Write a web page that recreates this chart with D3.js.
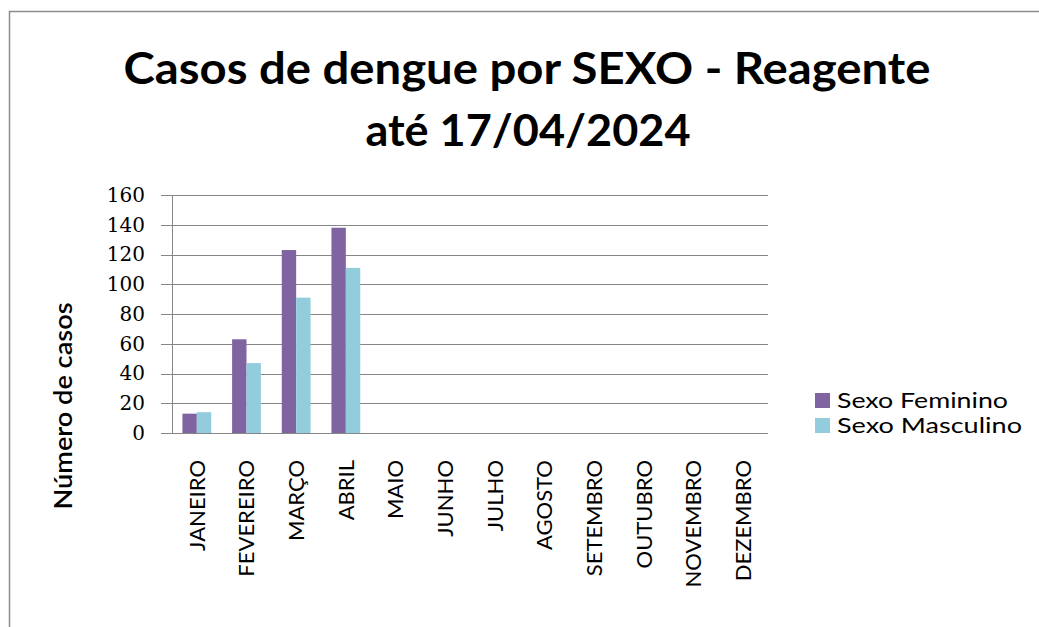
<!DOCTYPE html>
<html>
<head>
<meta charset="utf-8">
<script src="https://cdn.jsdelivr.net/npm/d3@7"></script>
<style>
  body { margin: 0; background: #fff; }
  svg { display: block; }
</style>
</head>
<body>
<script>
// chart values
let months = ['JANEIRO', 'FEVEREIRO', 'MARÇO', 'ABRIL', 'MAIO', 'JUNHO', 'JULHO',
              'AGOSTO', 'SETEMBRO', 'OUTUBRO', 'NOVEMBRO', 'DEZEMBRO'];
let seriesNames = ['Sexo Feminino', 'Sexo Masculino'];
let feminino = [13, 63, 123, 138];
let masculino = [14, 47, 91, 111];
let yTicks = [0, 20, 40, 60, 80, 100, 120, 140, 160];
let colors = ['#8064A2', '#93CDDD'];

let svgWidth = 1039;
let svgHeight = 627;
let plot = { left: 172, right: 768, top: 195, bottom: 433 };

let svg = d3.select('body')
  .append('svg')
  .attr('width', svgWidth)
  .attr('height', svgHeight);

// chart frame (only top and left edges visible in the crop)
svg.append('path')
  .attr('d', 'M9.5,' + svgHeight + 'V11.5H' + svgWidth)
  .attr('fill', 'none')
  .attr('stroke', '#8c8c8c')
  .attr('stroke-width', 1.5);

// title
let title = svg.append('g')
  .attr('font-family', 'Lato, sans-serif')
  .attr('font-weight', 'bold')
  .attr('font-size', 43)
  .attr('fill', '#000')
  .attr('text-anchor', 'middle');
title.append('text')
  .attr('x', 527).attr('y', 84)
  .attr('textLength', 807).attr('lengthAdjust', 'spacingAndGlyphs')
  .text('Casos de dengue por SEXO - Reagente');
title.append('text')
  .attr('x', 528).attr('y', 146)
  .attr('textLength', 325).attr('lengthAdjust', 'spacingAndGlyphs')
  .text('até 17/04/2024');

// scales
let x0 = d3.scaleBand()
  .domain(months)
  .range([plot.left, plot.right])
  .paddingInner(0.42)
  .paddingOuter(0.21);

let x1 = d3.scaleBand()
  .domain(seriesNames)
  .range([0, x0.bandwidth()]);

let y = d3.scaleLinear()
  .domain([0, 160])
  .range([plot.bottom, plot.top]);

// gridlines + y tick labels
let yAxis = svg.append('g')
  .attr('transform', 'translate(' + (plot.left - 11) + ',0)')
  .call(d3.axisLeft(y)
    .tickValues(yTicks)
    .tickSize(-(plot.right - plot.left + 11))
    .tickPadding(16));
yAxis.select('.domain').remove();
yAxis.selectAll('.tick line').attr('stroke', '#868686').attr('shape-rendering', 'crispEdges');
yAxis.selectAll('.tick text')
  .attr('font-family', '"DejaVu Serif", serif')
  .attr('font-size', 20)
  .attr('fill', '#000');

// vertical axis line
svg.append('line')
  .attr('x1', plot.left).attr('x2', plot.left)
  .attr('y1', y(160)).attr('y2', y(0))
  .attr('stroke', '#868686')
  .attr('shape-rendering', 'crispEdges');

// bars
let rows = months.map((m, i) => ({ month: m, values: [feminino[i], masculino[i]] }))
  .filter(d => d.values[0] !== undefined);

svg.append('g')
  .selectAll('g')
  .data(rows)
  .enter()
  .append('g')
    .attr('transform', d => 'translate(' + x0(d.month) + ',0)')
  .selectAll('rect')
  .data(d => d.values.map((v, k) => ({ name: seriesNames[k], value: v, k: k })))
  .enter()
  .append('rect')
    .attr('x', d => x1(d.name))
    .attr('y', d => y(d.value))
    .attr('width', x1.bandwidth())
    .attr('height', d => y(0) - y(d.value))
    .attr('fill', d => colors[d.k]);

// month labels
let xAxis = svg.append('g')
  .attr('transform', 'translate(0,' + plot.bottom + ')')
  .call(d3.axisBottom(x0).tickSize(0).tickPadding(0));
xAxis.select('.domain').remove();
xAxis.selectAll('.tick text')
  .attr('font-family', 'Lato, sans-serif')
  .attr('font-size', 22)
  .attr('fill', '#000')
  .attr('text-anchor', 'end')
  .attr('transform', 'rotate(-90)')
  .attr('x', -27)
  .attr('y', 0)
  .attr('dy', '0.35em');

// y axis title
svg.append('text')
  .attr('transform', 'translate(64,406) rotate(-90)')
  .attr('text-anchor', 'middle')
  .attr('dy', '0.35em')
  .attr('font-family', 'Lato, sans-serif')
  .attr('font-weight', 600)
  .attr('font-size', 24)
  .attr('textLength', 207)
  .attr('lengthAdjust', 'spacingAndGlyphs')
  .text('Número de casos');

// legend
let legend = svg.append('g')
  .selectAll('g')
  .data(seriesNames)
  .enter()
  .append('g')
    .attr('transform', (d, i) => 'translate(815,' + (400 + i * 25) + ')');
legend.append('rect')
  .attr('x', 0).attr('y', -7)
  .attr('width', 15).attr('height', 15)
  .attr('fill', (d, i) => colors[i]);
legend.append('text')
  .attr('x', 22)
  .attr('dy', '0.35em')
  .attr('font-family', 'Lato, sans-serif')
  .attr('font-size', 22)
  .attr('textLength', (d, i) => i === 0 ? 171 : 185)
  .attr('lengthAdjust', 'spacingAndGlyphs')
  .text(d => d);
</script>
</body>
</html>
